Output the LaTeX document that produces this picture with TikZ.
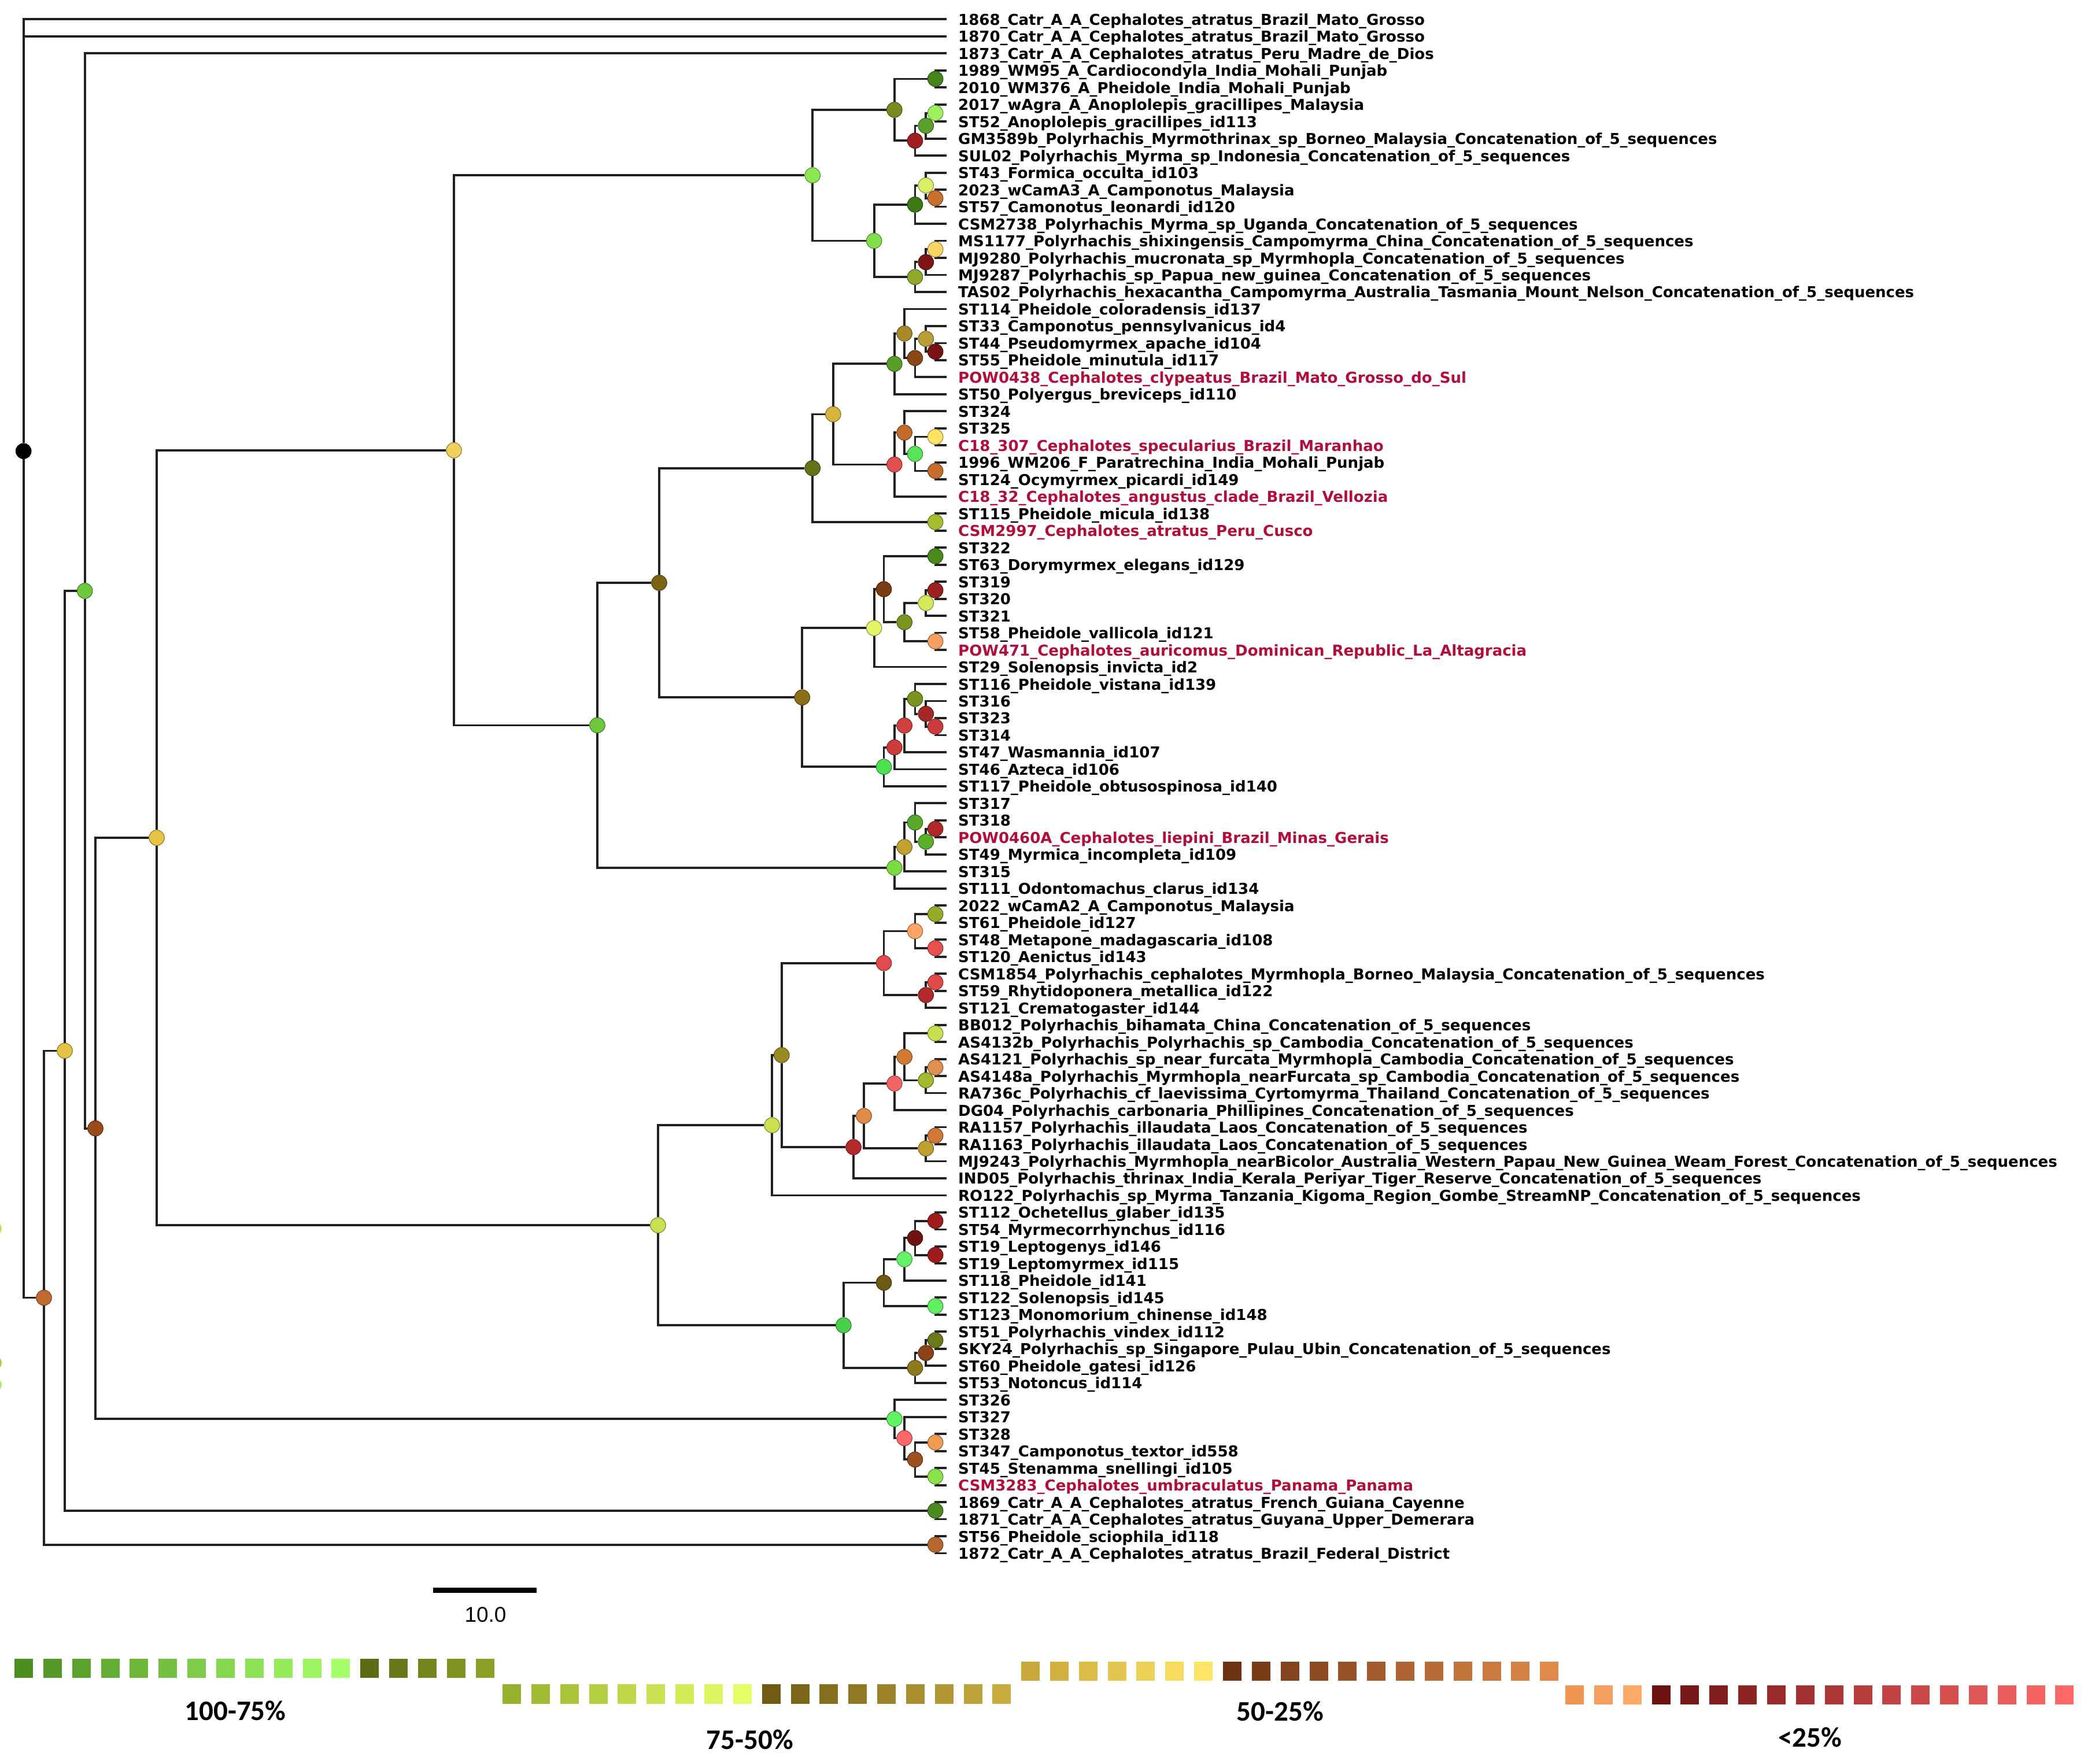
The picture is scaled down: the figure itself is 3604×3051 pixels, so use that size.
\documentclass[tikz,border=0pt]{standalone}
\usepackage{fontspec}
\newfontfamily\labfont{DejaVu Sans}
\newfontfamily\legfont{Carlito}
\newfontfamily\scfont{Liberation Sans}
\usetikzlibrary{backgrounds}
\definecolor{labred}{HTML}{B00F3C}
\definecolor{lgA}{HTML}{4C8F20}\definecolor{lgB}{HTML}{A5FF68}
\definecolor{loA}{HTML}{5E6B14}\definecolor{loB}{HTML}{8AA026}
\definecolor{ygA}{HTML}{98B12C}\definecolor{ygB}{HTML}{E4FF66}
\definecolor{boA}{HTML}{705A14}\definecolor{boB}{HTML}{C8AC3E}
\definecolor{yeA}{HTML}{C8A838}\definecolor{yeB}{HTML}{FFE566}
\definecolor{brA}{HTML}{6E3412}\definecolor{brB}{HTML}{E08A4C}
\definecolor{rdA}{HTML}{6E1212}\definecolor{rdB}{HTML}{FF6868}
\newcommand{\Yy}[1]{(33.3+29.48*((#1)-1))}
\newcommand{\kxA}{1617.6}
\newcommand{\kxB}{1601.2}
\newcommand{\kxC}{1582.4}
\newcommand{\kxD}{1564.1}
\newcommand{\kxE}{1546.8}
\newcommand{\kxF}{1528.5}
\newcommand{\kxG}{1511.6}
\newcommand{\leaf}[3]{\coordinate (l#1) at (1637,{\Yy{#1}});
  \node[lab,text=#2] (t#1) at (1657,{\Yy{#1}+10}) {#3};}
\newcommand{\tn}[4]{\definecolor{c#1}{HTML}{#4}\node[bs=c#1] (#1) at (#2,{\Yy{#3}}) {};}
\newcommand{\tedge}[2]{\draw[edge] (#1) |- (#2);}
\begin{document}
\begin{tikzpicture}[x=1pt,y=-1pt,
  edge/.style={line width=3.8pt, draw=black!87},
  bs/.style={circle, minimum size=26.5pt, inner sep=0pt, fill=#1, draw=#1!60!black, line width=1.1pt},
  lab/.style={anchor=base west, inner sep=0pt, font=\labfont\bfseries\fontsize{26}{30}\selectfont},
  leg/.style={inner sep=0pt, font=\legfont\bfseries\fontsize{49}{55}\selectfont}]
\useasboundingbox (0,0) rectangle (3604,3051);

% leaves
\leaf{1}{black}{1868\_Catr\_A\_A\_Cephalotes\_atratus\_Brazil\_Mato\_Grosso}
\leaf{2}{black}{1870\_Catr\_A\_A\_Cephalotes\_atratus\_Brazil\_Mato\_Grosso}
\leaf{3}{black}{1873\_Catr\_A\_A\_Cephalotes\_atratus\_Peru\_Madre\_de\_Dios}
\leaf{4}{black}{1989\_WM95\_A\_Cardiocondyla\_India\_Mohali\_Punjab}
\leaf{5}{black}{2010\_WM376\_A\_Pheidole\_India\_Mohali\_Punjab}
\leaf{6}{black}{2017\_wAgra\_A\_Anoplolepis\_gracillipes\_Malaysia}
\leaf{7}{black}{ST52\_Anoplolepis\_gracillipes\_id113}
\leaf{8}{black}{GM3589b\_Polyrhachis\_Myrmothrinax\_sp\_Borneo\_Malaysia\_Concatenation\_of\_5\_sequences}
\leaf{9}{black}{SUL02\_Polyrhachis\_Myrma\_sp\_Indonesia\_Concatenation\_of\_5\_sequences}
\leaf{10}{black}{ST43\_Formica\_occulta\_id103}
\leaf{11}{black}{2023\_wCamA3\_A\_Camponotus\_Malaysia}
\leaf{12}{black}{ST57\_Camonotus\_leonardi\_id120}
\leaf{13}{black}{CSM2738\_Polyrhachis\_Myrma\_sp\_Uganda\_Concatenation\_of\_5\_sequences}
\leaf{14}{black}{MS1177\_Polyrhachis\_shixingensis\_Campomyrma\_China\_Concatenation\_of\_5\_sequences}
\leaf{15}{black}{MJ9280\_Polyrhachis\_mucronata\_sp\_Myrmhopla\_Concatenation\_of\_5\_sequences}
\leaf{16}{black}{MJ9287\_Polyrhachis\_sp\_Papua\_new\_guinea\_Concatenation\_of\_5\_sequences}
\leaf{17}{black}{TAS02\_Polyrhachis\_hexacantha\_Campomyrma\_Australia\_Tasmania\_Mount\_Nelson\_Concatenation\_of\_5\_sequences}
\leaf{18}{black}{ST114\_Pheidole\_coloradensis\_id137}
\leaf{19}{black}{ST33\_Camponotus\_pennsylvanicus\_id4}
\leaf{20}{black}{ST44\_Pseudomyrmex\_apache\_id104}
\leaf{21}{black}{ST55\_Pheidole\_minutula\_id117}
\leaf{22}{labred}{POW0438\_Cephalotes\_clypeatus\_Brazil\_Mato\_Grosso\_do\_Sul}
\leaf{23}{black}{ST50\_Polyergus\_breviceps\_id110}
\leaf{24}{black}{ST324}
\leaf{25}{black}{ST325}
\leaf{26}{labred}{C18\_307\_Cephalotes\_specularius\_Brazil\_Maranhao}
\leaf{27}{black}{1996\_WM206\_F\_Paratrechina\_India\_Mohali\_Punjab}
\leaf{28}{black}{ST124\_Ocymyrmex\_picardi\_id149}
\leaf{29}{labred}{C18\_32\_Cephalotes\_angustus\_clade\_Brazil\_Vellozia}
\leaf{30}{black}{ST115\_Pheidole\_micula\_id138}
\leaf{31}{labred}{CSM2997\_Cephalotes\_atratus\_Peru\_Cusco}
\leaf{32}{black}{ST322}
\leaf{33}{black}{ST63\_Dorymyrmex\_elegans\_id129}
\leaf{34}{black}{ST319}
\leaf{35}{black}{ST320}
\leaf{36}{black}{ST321}
\leaf{37}{black}{ST58\_Pheidole\_vallicola\_id121}
\leaf{38}{labred}{POW471\_Cephalotes\_auricomus\_Dominican\_Republic\_La\_Altagracia}
\leaf{39}{black}{ST29\_Solenopsis\_invicta\_id2}
\leaf{40}{black}{ST116\_Pheidole\_vistana\_id139}
\leaf{41}{black}{ST316}
\leaf{42}{black}{ST323}
\leaf{43}{black}{ST314}
\leaf{44}{black}{ST47\_Wasmannia\_id107}
\leaf{45}{black}{ST46\_Azteca\_id106}
\leaf{46}{black}{ST117\_Pheidole\_obtusospinosa\_id140}
\leaf{47}{black}{ST317}
\leaf{48}{black}{ST318}
\leaf{49}{labred}{POW0460A\_Cephalotes\_liepini\_Brazil\_Minas\_Gerais}
\leaf{50}{black}{ST49\_Myrmica\_incompleta\_id109}
\leaf{51}{black}{ST315}
\leaf{52}{black}{ST111\_Odontomachus\_clarus\_id134}
\leaf{53}{black}{2022\_wCamA2\_A\_Camponotus\_Malaysia}
\leaf{54}{black}{ST61\_Pheidole\_id127}
\leaf{55}{black}{ST48\_Metapone\_madagascaria\_id108}
\leaf{56}{black}{ST120\_Aenictus\_id143}
\leaf{57}{black}{CSM1854\_Polyrhachis\_cephalotes\_Myrmhopla\_Borneo\_Malaysia\_Concatenation\_of\_5\_sequences}
\leaf{58}{black}{ST59\_Rhytidoponera\_metallica\_id122}
\leaf{59}{black}{ST121\_Crematogaster\_id144}
\leaf{60}{black}{BB012\_Polyrhachis\_bihamata\_China\_Concatenation\_of\_5\_sequences}
\leaf{61}{black}{AS4132b\_Polyrhachis\_Polyrhachis\_sp\_Cambodia\_Concatenation\_of\_5\_sequences}
\leaf{62}{black}{AS4121\_Polyrhachis\_sp\_near\_furcata\_Myrmhopla\_Cambodia\_Concatenation\_of\_5\_sequences}
\leaf{63}{black}{AS4148a\_Polyrhachis\_Myrmhopla\_nearFurcata\_sp\_Cambodia\_Concatenation\_of\_5\_sequences}
\leaf{64}{black}{RA736c\_Polyrhachis\_cf\_laevissima\_Cyrtomyrma\_Thailand\_Concatenation\_of\_5\_sequences}
\leaf{65}{black}{DG04\_Polyrhachis\_carbonaria\_Phillipines\_Concatenation\_of\_5\_sequences}
\leaf{66}{black}{RA1157\_Polyrhachis\_illaudata\_Laos\_Concatenation\_of\_5\_sequences}
\leaf{67}{black}{RA1163\_Polyrhachis\_illaudata\_Laos\_Concatenation\_of\_5\_sequences}
\leaf{68}{black}{MJ9243\_Polyrhachis\_Myrmhopla\_nearBicolor\_Australia\_Western\_Papau\_New\_Guinea\_Weam\_Forest\_Concatenation\_of\_5\_sequences}
\leaf{69}{black}{IND05\_Polyrhachis\_thrinax\_India\_Kerala\_Periyar\_Tiger\_Reserve\_Concatenation\_of\_5\_sequences}
\leaf{70}{black}{RO122\_Polyrhachis\_sp\_Myrma\_Tanzania\_Kigoma\_Region\_Gombe\_StreamNP\_Concatenation\_of\_5\_sequences}
\leaf{71}{black}{ST112\_Ochetellus\_glaber\_id135}
\leaf{72}{black}{ST54\_Myrmecorrhynchus\_id116}
\leaf{73}{black}{ST19\_Leptogenys\_id146}
\leaf{74}{black}{ST19\_Leptomyrmex\_id115}
\leaf{75}{black}{ST118\_Pheidole\_id141}
\leaf{76}{black}{ST122\_Solenopsis\_id145}
\leaf{77}{black}{ST123\_Monomorium\_chinense\_id148}
\leaf{78}{black}{ST51\_Polyrhachis\_vindex\_id112}
\leaf{79}{black}{SKY24\_Polyrhachis\_sp\_Singapore\_Pulau\_Ubin\_Concatenation\_of\_5\_sequences}
\leaf{80}{black}{ST60\_Pheidole\_gatesi\_id126}
\leaf{81}{black}{ST53\_Notoncus\_id114}
\leaf{82}{black}{ST326}
\leaf{83}{black}{ST327}
\leaf{84}{black}{ST328}
\leaf{85}{black}{ST347\_Camponotus\_textor\_id558}
\leaf{86}{black}{ST45\_Stenamma\_snellingi\_id105}
\leaf{87}{labred}{CSM3283\_Cephalotes\_umbraculatus\_Panama\_Panama}
\leaf{88}{black}{1869\_Catr\_A\_A\_Cephalotes\_atratus\_French\_Guiana\_Cayenne}
\leaf{89}{black}{1871\_Catr\_A\_A\_Cephalotes\_atratus\_Guyana\_Upper\_Demerara}
\leaf{90}{black}{ST56\_Pheidole\_sciophila\_id118}
\leaf{91}{black}{1872\_Catr\_A\_A\_Cephalotes\_atratus\_Brazil\_Federal\_District}

% internal nodes
\tn{root}{40.7}{26.3364}{000000}
\tn{n3t91}{76}{76.0092163}{C06A30}
\tn{n3t89}{112}{61.5184326}{E6C244}
\tn{n3t87}{146.7}{34.5368652}{6CC83C}
\tn{n4t87}{165}{66.0737305}{9A4A1C}
\tn{n4t81}{271}{49.0224609}{E8C444}
\tn{n4t52}{785}{26.2890625}{F0D05C}
\tn{n18t52}{1033}{42.421875}{6CC83C}
\tn{n18t46}{1140}{34.0625}{7A6414}
\tn{n53t81}{1138}{71.755859375}{C8E052}
\tn{nA}{1405.2}{10.15625}{8CE850}
\tn{n4t9}{\kxE}{6.3125}{7A8A1E}
\tn{n4t5}{\kxA}{4.5}{43851A}
\tn{n6t9}{\kxC}{8.125}{A01E20}
\tn{n6t8}{\kxB}{7.25}{5AA02A}
\tn{n6t7}{\kxA}{6.5}{A0F060}
\tn{n10t17}{\kxG}{14}{80E04C}
\tn{n10t13}{\kxC}{11.875}{3E7A14}
\tn{n10t12}{\kxB}{10.75}{D8F066}
\tn{n11t12}{\kxA}{11.5}{C8702E}
\tn{n14t17}{\kxC}{16.125}{8EA82A}
\tn{n14t16}{\kxB}{15.25}{7E1616}
\tn{n14t15}{\kxA}{14.5}{F8D862}
\tn{n18t31}{1405.2}{27.3359375}{66721A}
\tn{n18t29}{1440.8}{24.171875}{D8B43E}
\tn{n18t23}{\kxE}{21.21875}{56A026}
\tn{n18t22}{\kxD}{19.4375}{A88A28}
\tn{n19t22}{\kxC}{20.875}{8A4818}
\tn{n19t21}{\kxB}{19.75}{BC9E36}
\tn{n20t21}{\kxA}{20.5}{7A1212}
\tn{n24t29}{\kxE}{27.125}{E05050}
\tn{n24t28}{\kxD}{25.25}{C06A2C}
\tn{n25t28}{\kxC}{26.5}{58E458}
\tn{n25t26}{\kxA}{25.5}{FFE266}
\tn{n27t28}{\kxA}{27.5}{C86C2E}
\tn{n30t31}{\kxA}{30.5}{A8BC30}
\tn{n32t46}{1387.3}{40.7890625}{8A6E18}
\tn{n32t39}{\kxG}{36.71875}{E2F468}
\tn{n32t38}{\kxF}{34.4375}{7A3C10}
\tn{n32t33}{\kxA}{32.5}{4A8A1A}
\tn{n34t38}{\kxD}{36.375}{7C9422}
\tn{n34t36}{\kxB}{35.25}{D4EA5C}
\tn{n34t35}{\kxA}{34.5}{9C2020}
\tn{n37t38}{\kxA}{37.5}{F5A060}
\tn{n40t46}{\kxF}{44.859375}{4CE050}
\tn{n40t45}{\kxE}{43.71875}{CC3C3C}
\tn{n40t44}{\kxD}{42.4375}{D04040}
\tn{n40t43}{\kxC}{40.875}{7A9220}
\tn{n41t43}{\kxB}{41.75}{A42828}
\tn{n42t43}{\kxA}{42.5}{CC3C3C}
\tn{n47t52}{\kxE}{50.78125}{7ADC44}
\tn{n47t51}{\kxD}{49.5625}{C4A032}
\tn{n47t50}{\kxC}{48.125}{5AA82A}
\tn{n48t50}{\kxB}{49.25}{5AAE2A}
\tn{n48t49}{\kxA}{48.5}{B02828}
\tn{n53t70}{1335.2}{65.88671875}{CCE050}
\tn{n53t69}{1351.7}{61.7734375}{9A8A22}
\tn{n53t59}{\kxF}{56.375}{E04C4C}
\tn{n53t56}{\kxC}{54.5}{FFA464}
\tn{n53t54}{\kxA}{53.5}{94AC2A}
\tn{n55t56}{\kxA}{55.5}{E85050}
\tn{n57t59}{\kxB}{58.25}{B02A2A}
\tn{n57t58}{\kxA}{57.5}{E24A4A}
\tn{n60t69}{1476}{67.171875}{B22A2A}
\tn{n60t68}{1494}{65.34375}{E08A48}
\tn{n60t65}{\kxE}{63.4375}{F56464}
\tn{n60t64}{\kxD}{61.875}{D07A34}
\tn{n60t61}{\kxA}{60.5}{C6E04E}
\tn{n62t64}{\kxB}{63.25}{A2BA30}
\tn{n62t63}{\kxA}{62.5}{E09050}
\tn{n66t68}{\kxB}{67.25}{C0A030}
\tn{n66t67}{\kxA}{66.5}{D07838}
\tn{n71t81}{1458.8}{77.625}{48D04A}
\tn{n71t77}{\kxF}{75.125}{6E5A12}
\tn{n71t75}{\kxD}{73.75}{66F266}
\tn{n71t74}{\kxC}{72.5}{701212}
\tn{n71t72}{\kxA}{71.5}{A01C1C}
\tn{n73t74}{\kxA}{73.5}{A01C1C}
\tn{n76t77}{\kxA}{76.5}{60F060}
\tn{n78t81}{\kxC}{80.125}{8C7A1E}
\tn{n78t80}{\kxB}{79.25}{8A4418}
\tn{n78t79}{\kxA}{78.5}{6C781A}
\tn{n82t87}{\kxE}{83.125}{60F462}
\tn{n83t87}{\kxD}{84.25}{FF6868}
\tn{n84t87}{\kxC}{85.5}{9C5220}
\tn{n84t85}{\kxA}{84.5}{F09A52}
\tn{n86t87}{\kxA}{86.5}{8AE24A}
\tn{n88t89}{\kxA}{88.5}{4A8A20}
\tn{n90t91}{\kxA}{90.5}{B8682C}

% connectors
\begin{scope}[on background layer]
\tedge{root}{l1}\tedge{root}{l2}\tedge{root}{n3t91}
\tedge{n3t91}{n3t89}\tedge{n3t91}{n90t91}
\tedge{n90t91}{l90}\tedge{n90t91}{l91}
\tedge{n3t89}{n3t87}\tedge{n3t89}{n88t89}
\tedge{n88t89}{l88}\tedge{n88t89}{l89}
\tedge{n3t87}{l3}\tedge{n3t87}{n4t87}
\tedge{n4t87}{n4t81}\tedge{n4t87}{n82t87}
\tedge{n82t87}{l82}\tedge{n82t87}{n83t87}
\tedge{n83t87}{l83}\tedge{n83t87}{n84t87}
\tedge{n84t87}{n84t85}\tedge{n84t87}{n86t87}
\tedge{n84t85}{l84}\tedge{n84t85}{l85}
\tedge{n86t87}{l86}\tedge{n86t87}{l87}
\tedge{n4t81}{n4t52}\tedge{n4t81}{n53t81}
\tedge{n4t52}{nA}\tedge{n4t52}{n18t52}
\tedge{nA}{n4t9}\tedge{nA}{n10t17}
\tedge{n4t9}{n4t5}\tedge{n4t9}{n6t9}
\tedge{n4t5}{l4}\tedge{n4t5}{l5}
\tedge{n6t9}{n6t8}\tedge{n6t9}{l9}
\tedge{n6t8}{n6t7}\tedge{n6t8}{l8}
\tedge{n6t7}{l6}\tedge{n6t7}{l7}
\tedge{n10t17}{n10t13}\tedge{n10t17}{n14t17}
\tedge{n10t13}{n10t12}\tedge{n10t13}{l13}
\tedge{n10t12}{l10}\tedge{n10t12}{n11t12}
\tedge{n11t12}{l11}\tedge{n11t12}{l12}
\tedge{n14t17}{n14t16}\tedge{n14t17}{l17}
\tedge{n14t16}{n14t15}\tedge{n14t16}{l16}
\tedge{n14t15}{l14}\tedge{n14t15}{l15}
\tedge{n18t52}{n18t46}\tedge{n18t52}{n47t52}
\tedge{n18t46}{n18t31}\tedge{n18t46}{n32t46}
\tedge{n18t31}{n18t29}\tedge{n18t31}{n30t31}
\tedge{n30t31}{l30}\tedge{n30t31}{l31}
\tedge{n18t29}{n18t23}\tedge{n18t29}{n24t29}
\tedge{n18t23}{n18t22}\tedge{n18t23}{l23}
\tedge{n18t22}{l18}\tedge{n18t22}{n19t22}
\tedge{n19t22}{n19t21}\tedge{n19t22}{l22}
\tedge{n19t21}{l19}\tedge{n19t21}{n20t21}
\tedge{n20t21}{l20}\tedge{n20t21}{l21}
\tedge{n24t29}{n24t28}\tedge{n24t29}{l29}
\tedge{n24t28}{l24}\tedge{n24t28}{n25t28}
\tedge{n25t28}{n25t26}\tedge{n25t28}{n27t28}
\tedge{n25t26}{l25}\tedge{n25t26}{l26}
\tedge{n27t28}{l27}\tedge{n27t28}{l28}
\tedge{n32t46}{n32t39}\tedge{n32t46}{n40t46}
\tedge{n32t39}{n32t38}\tedge{n32t39}{l39}
\tedge{n32t38}{n32t33}\tedge{n32t38}{n34t38}
\tedge{n32t33}{l32}\tedge{n32t33}{l33}
\tedge{n34t38}{n34t36}\tedge{n34t38}{n37t38}
\tedge{n34t36}{n34t35}\tedge{n34t36}{l36}
\tedge{n34t35}{l34}\tedge{n34t35}{l35}
\tedge{n37t38}{l37}\tedge{n37t38}{l38}
\tedge{n40t46}{n40t45}\tedge{n40t46}{l46}
\tedge{n40t45}{n40t44}\tedge{n40t45}{l45}
\tedge{n40t44}{n40t43}\tedge{n40t44}{l44}
\tedge{n40t43}{l40}\tedge{n40t43}{n41t43}
\tedge{n41t43}{l41}\tedge{n41t43}{n42t43}
\tedge{n42t43}{l42}\tedge{n42t43}{l43}
\tedge{n47t52}{n47t51}\tedge{n47t52}{l52}
\tedge{n47t51}{n47t50}\tedge{n47t51}{l51}
\tedge{n47t50}{l47}\tedge{n47t50}{n48t50}
\tedge{n48t50}{n48t49}\tedge{n48t50}{l50}
\tedge{n48t49}{l48}\tedge{n48t49}{l49}
\tedge{n53t81}{n53t70}\tedge{n53t81}{n71t81}
\tedge{n53t70}{n53t69}\tedge{n53t70}{l70}
\tedge{n53t69}{n53t59}\tedge{n53t69}{n60t69}
\tedge{n53t59}{n53t56}\tedge{n53t59}{n57t59}
\tedge{n53t56}{n53t54}\tedge{n53t56}{n55t56}
\tedge{n53t54}{l53}\tedge{n53t54}{l54}
\tedge{n55t56}{l55}\tedge{n55t56}{l56}
\tedge{n57t59}{n57t58}\tedge{n57t59}{l59}
\tedge{n57t58}{l57}\tedge{n57t58}{l58}
\tedge{n60t69}{n60t68}\tedge{n60t69}{l69}
\tedge{n60t68}{n60t65}\tedge{n60t68}{n66t68}
\tedge{n60t65}{n60t64}\tedge{n60t65}{l65}
\tedge{n60t64}{n60t61}\tedge{n60t64}{n62t64}
\tedge{n60t61}{l60}\tedge{n60t61}{l61}
\tedge{n62t64}{n62t63}\tedge{n62t64}{l64}
\tedge{n62t63}{l62}\tedge{n62t63}{l63}
\tedge{n66t68}{n66t67}\tedge{n66t68}{l68}
\tedge{n66t67}{l66}\tedge{n66t67}{l67}
\tedge{n71t81}{n71t77}\tedge{n71t81}{n78t81}
\tedge{n71t77}{n71t75}\tedge{n71t77}{n76t77}
\tedge{n71t75}{n71t74}\tedge{n71t75}{l75}
\tedge{n71t74}{n71t72}\tedge{n71t74}{n73t74}
\tedge{n71t72}{l71}\tedge{n71t72}{l72}
\tedge{n73t74}{l73}\tedge{n73t74}{l74}
\tedge{n76t77}{l76}\tedge{n76t77}{l77}
\tedge{n78t81}{n78t80}\tedge{n78t81}{l81}
\tedge{n78t80}{n78t79}\tedge{n78t80}{l80}
\tedge{n78t79}{l78}\tedge{n78t79}{l79}
\end{scope}

% clipped circles at the left edge
\fill[fill={rgb,255:red,200;green,222;blue,92}] (-10,2125) circle (13);
\fill[fill={rgb,255:red,184;green,200;blue,64}] (-10,2357) circle (13);
\fill[fill={rgb,255:red,165;green,240;blue,96}] (-10,2395) circle (13);

% scale bar
\coordinate (sb1) at (749,2750);
\coordinate (sb2) at (928,2750);
\draw[line width=9pt] (sb1) -- (sb2);
\node[inner sep=0pt, font=\scfont\fontsize{37}{40}\selectfont] (sbt) at (839.5,2792.5) {10.0};

% legend
\foreach \i in {0,...,11}{\pgfmathtruncatemacro\pp{round(100*\i/11)}\fill[lgB!\pp!lgA] ({25+49.85*\i},2869) rectangle ++(32,33);}
\foreach \i in {0,...,4}{\pgfmathtruncatemacro\pp{25*\i}\fill[loB!\pp!loA] ({25+49.85*(12+\i)},2869) rectangle ++(32,33);}
\foreach \i in {0,...,8}{\pgfmathtruncatemacro\pp{round(12.5*\i)}\fill[ygB!\pp!ygA] ({869+49.85*\i},2913) rectangle ++(32,34);}
\foreach \i in {0,...,8}{\pgfmathtruncatemacro\pp{round(12.5*\i)}\fill[boB!\pp!boA] ({869+49.85*(9+\i)},2913) rectangle ++(32,34);}
\foreach \i in {0,...,6}{\pgfmathtruncatemacro\pp{round(100*\i/6)}\fill[yeB!\pp!yeA] ({1766+49.85*\i},2874) rectangle ++(32,33);}
\foreach \i in {0,...,11}{\pgfmathtruncatemacro\pp{round(100*\i/11)}\fill[brB!\pp!brA] ({1766+49.85*(7+\i)},2874) rectangle ++(32,33);}
\fill[fill={rgb,255:red,240;green,149;blue,80}] (2707,2915) rectangle ++(32,33);
\fill[fill={rgb,255:red,245;green,160;blue,96}] (2756.85,2915) rectangle ++(32,33);
\fill[fill={rgb,255:red,255;green,170;blue,102}] (2806.7,2915) rectangle ++(32,33);
\foreach \i in {0,...,14}{\pgfmathtruncatemacro\pp{round(100*\i/14)}\fill[rdB!\pp!rdA] ({2707+49.85*(3+\i)},2915) rectangle ++(32,33);}
\node[leg] (lg1) at (407,2959) {100-75\%};
\node[leg] (lg2) at (1297,3009) {75-50\%};
\node[leg] (lg3) at (2214,2960) {50-25\%};
\node[leg] (lg4) at (3130,3005) {<25\%};
\end{tikzpicture}
\end{document}
